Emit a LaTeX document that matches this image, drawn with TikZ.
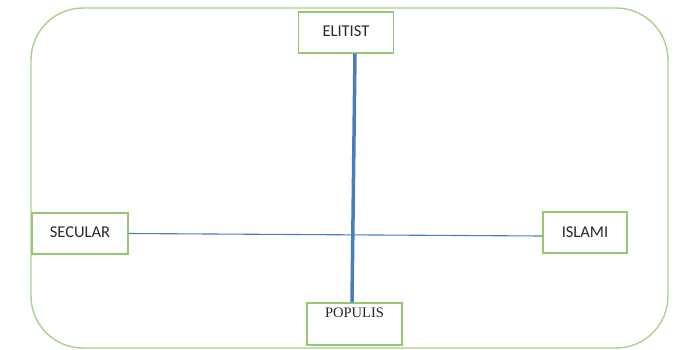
\documentclass[tikz,border=0pt]{standalone}
\usepackage{fontspec}
\newfontfamily\calibri{Carlito}
\newfontfamily\timesf{Liberation Serif}
\usepackage{tikz}
\usetikzlibrary{positioning}
\definecolor{framegreen}{RGB}{169,209,142}
\definecolor{boxgreen}{RGB}{150,200,115}
\definecolor{axisblue}{RGB}{74,126,187}
\definecolor{labelgray}{RGB}{40,40,40}

\begin{document}
\begin{tikzpicture}[x=1pt,y=-1pt,
	thick,main node/.style={rectangle,draw=boxgreen,line width=1.2pt,fill=white,
		text=labelgray,font=\calibri\fontsize{16.5}{19}\selectfont,
		inner sep=0pt,minimum height=41pt}]
	\useasboundingbox (0,0) rectangle (681,349);
	
	\draw[framegreen,line width=1.4pt,rounded corners=52pt] (31,8) rectangle (668,348);
	
	\node[main node,minimum width=95pt] (elitist) at (346,32.5) {\raisebox{2pt}{ELITIST}};
	\node[main node,minimum width=96pt] (secular) at (80,233.5) {\raisebox{2pt}{SECULAR}};
	\node[main node,minimum width=84pt] (islami) at (585,232.5) {\raisebox{1pt}{ISLAMI}};
	\node[main node,minimum width=95pt,font=\timesf\fontsize{14.5}{16}\selectfont,
		text height=10pt,text depth=24pt,inner ysep=4pt] (populis) at (354.5,324) {POPULIS};
	
	\path[axisblue]
	([xshift=9pt]elitist.south) edge [line width=3.5pt] ([xshift=-2.5pt]populis.north)
	(secular.east) edge [line width=1.1pt] ([yshift=-3.5pt]islami.west);
\end{tikzpicture}
\end{document}
